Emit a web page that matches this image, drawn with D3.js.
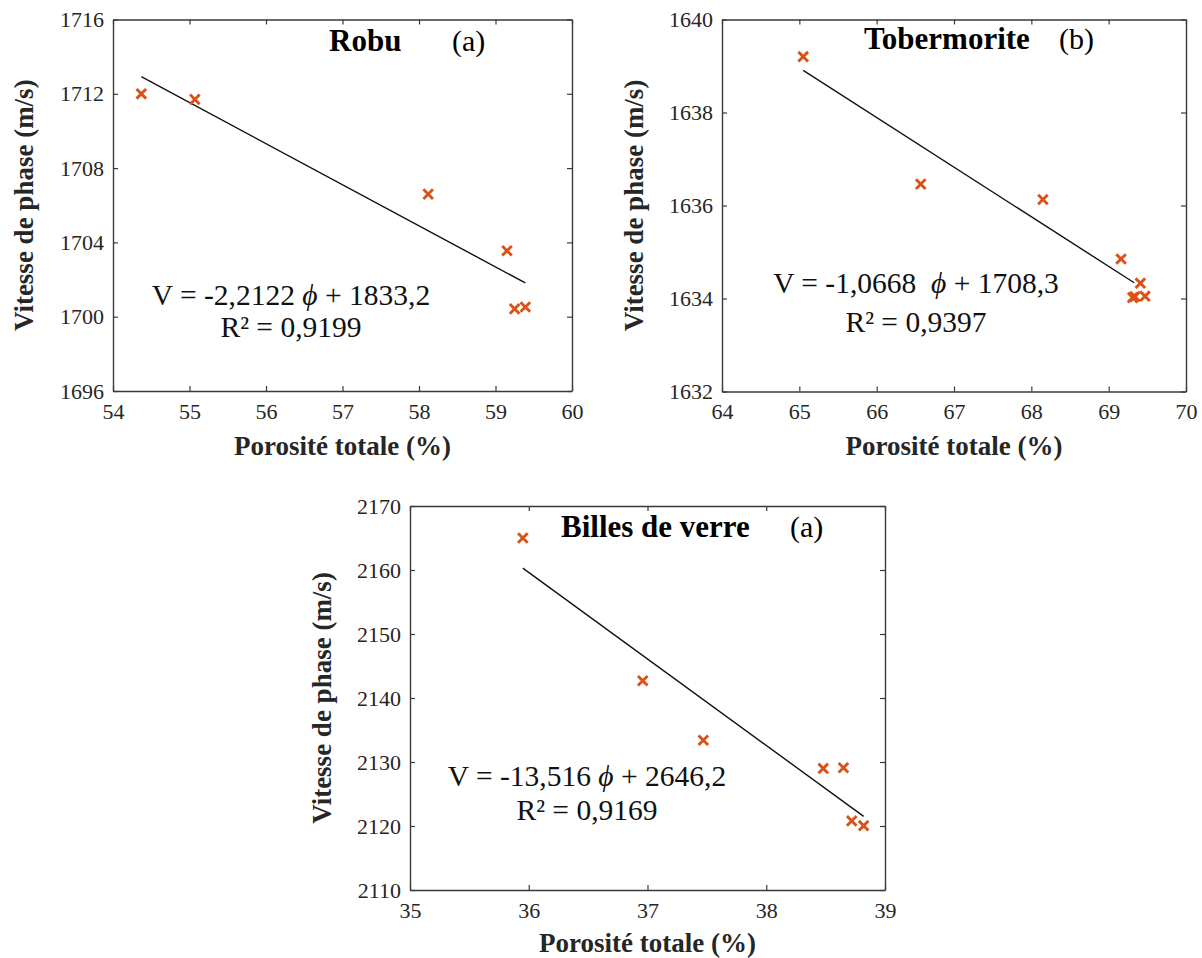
<!DOCTYPE html>
<html><head><meta charset="utf-8">
<script src="https://cdn.jsdelivr.net/npm/d3@7"></script>
<style>body{margin:0;background:#fff}svg{display:block}</style>
</head><body>
<svg id="c" width="1202" height="958"></svg>
<script>
// ---------- data ----------
const robuPorosity   = [54.37, 55.07, 58.12, 59.15, 59.25, 59.39];
const robuVelocity   = [1712.0, 1711.7, 1706.6, 1703.55, 1700.42, 1700.52];
const robuXTicks     = [54, 55, 56, 57, 58, 59, 60];
const robuYTicks     = [1696, 1700, 1704, 1708, 1712, 1716];
const robuFit        = [-2.2122, 1833.2];
const robuFitRange   = [54.37, 59.39];

const toberPorosity  = [65.05, 66.57, 68.15, 69.16, 69.41, 69.31, 69.34, 69.47];
const toberVelocity  = [1639.2, 1636.46, 1636.13, 1634.85, 1634.33, 1634.02, 1634.04, 1634.05];
const toberXTicks    = [64, 65, 66, 67, 68, 69, 70];
const toberYTicks    = [1632, 1634, 1636, 1638, 1640];
const toberFit       = [-1.0668, 1708.3];
const toberFitRange  = [65.05, 69.33];

const billesPorosity = [35.95, 36.96, 37.47, 38.48, 38.65, 38.72, 38.82];
const billesVelocity = [2165.0, 2142.7, 2133.4, 2129.0, 2129.1, 2120.8, 2120.05];
const billesXTicks   = [35, 36, 37, 38, 39];
const billesYTicks   = [2110, 2120, 2130, 2140, 2150, 2160, 2170];
const billesFit      = [-13.516, 2646.2];
const billesFitRange = [35.95, 38.82];

const xLabel = "Porosité totale (%)";
const yLabel = "Vitesse de phase (m/s)";

// ---------- layout ----------
const panels = [
  {x: robuPorosity, y: robuVelocity, xt: robuXTicks, yt: robuYTicks, fit: robuFit, fr: robuFitRange,
   box: [113, 572, 19.5, 391], title: "Robu", tag: "(a)", titleX: 329, tagX: 452, titleY: 51,
   eq1: "V = -2,2122 ", eq2: " + 1833,2", r2: "R² = 0,9199", eqX: 291, eqY: 305, r2Y: 337,
   yLabX: 33, xLabY: 455},
  {x: toberPorosity, y: toberVelocity, xt: toberXTicks, yt: toberYTicks, fit: toberFit, fr: toberFitRange,
   box: [722, 1186, 19.5, 391.5], title: "Tobermorite", tag: "(b)", titleX: 864, tagX: 1059, titleY: 49,
   eq1: "V = -1,0668\u00A0\u00A0", eq2: " + 1708,3", r2: "R² = 0,9397", eqX: 916, eqY: 293, r2Y: 332,
   yLabX: 643, xLabY: 455},
  {x: billesPorosity, y: billesVelocity, xt: billesXTicks, yt: billesYTicks, fit: billesFit, fr: billesFitRange,
   box: [410, 885, 506, 890], title: "Billes de verre", tag: "(a)", titleX: 561, tagX: 790, titleY: 537,
   eq1: "V = -13,516 ", eq2: " + 2646,2", r2: "R² = 0,9169", eqX: 587, eqY: 786, r2Y: 820,
   yLabX: 331, xLabY: 952}
];

const svg = d3.select("#c");
const serif = "'Liberation Serif', 'Times New Roman', serif";
const axisCol = "#3a3a3a";
const textCol = "#262626";
const markCol = "#D95319";

panels.forEach(p => {
  const [x0, x1, y0, y1] = p.box;
  const xs = d3.scaleLinear().domain(d3.extent(p.xt)).range([x0, x1]);
  const ys = d3.scaleLinear().domain(d3.extent(p.yt)).range([y1, y0]);
  const g = svg.append("g");

  const styleAxis = sel => {
    sel.select(".domain").attr("stroke", axisCol).attr("stroke-width", 1.4);
    sel.selectAll(".tick line").attr("stroke", axisCol).attr("stroke-width", 1.2);
    sel.selectAll("text").attr("fill", textCol).style("font-family", serif).style("font-size", "22px");
  };

  g.append("g").attr("transform", `translate(0,${y1})`)
    .call(d3.axisBottom(xs).tickValues(p.xt).tickSizeInner(-5).tickSizeOuter(0).tickPadding(12).tickFormat(d3.format("d")))
    .call(styleAxis);
  g.append("g").attr("transform", `translate(0,${y0})`)
    .call(d3.axisTop(xs).tickValues(p.xt).tickSizeInner(-5).tickSizeOuter(0).tickFormat(""))
    .call(styleAxis);
  g.append("g").attr("transform", `translate(${x0},0)`)
    .call(d3.axisLeft(ys).tickValues(p.yt).tickSizeInner(-5).tickSizeOuter(0).tickPadding(9).tickFormat(d3.format("d")))
    .call(styleAxis);
  g.append("g").attr("transform", `translate(${x1},0)`)
    .call(d3.axisRight(ys).tickValues(p.yt).tickSizeInner(-5).tickSizeOuter(0).tickFormat(""))
    .call(styleAxis);

  // trend line
  const fx = v => p.fit[0] * v + p.fit[1];
  g.append("line")
    .attr("x1", xs(p.fr[0])).attr("y1", ys(fx(p.fr[0])))
    .attr("x2", xs(p.fr[1])).attr("y2", ys(fx(p.fr[1])))
    .attr("stroke", "#111").attr("stroke-width", 1.4);

  // markers
  const r = 4.8;
  const pts = p.x.map((v, i) => [xs(v), ys(p.y[i])]);
  g.selectAll("path.m").data(pts).enter().append("path")
    .attr("class", "m")
    .attr("d", d => `M${d[0]-r},${d[1]-r}L${d[0]+r},${d[1]+r}M${d[0]-r},${d[1]+r}L${d[0]+r},${d[1]-r}`)
    .attr("stroke", markCol).attr("stroke-width", 2.9).attr("fill", "none");

  // title
  g.append("text").attr("x", p.titleX).attr("y", p.titleY)
    .style("font-family", serif).style("font-weight", "bold").style("font-size", "31px")
    .attr("fill", "#000").text(p.title);
  g.append("text").attr("x", p.tagX).attr("y", p.titleY)
    .style("font-family", serif).style("font-size", "30px").attr("fill", "#000").text(p.tag);

  // equation
  const eq = g.append("text").attr("x", p.eqX).attr("y", p.eqY).attr("text-anchor", "middle")
    .style("font-family", serif).style("font-size", "29.5px").attr("fill", "#111")
    .style("white-space", "pre");
  eq.append("tspan").text(p.eq1);
  eq.append("tspan").style("font-style", "italic").text("\u03D5");
  eq.append("tspan").text(p.eq2);
  g.append("text").attr("x", p.eqX).attr("y", p.r2Y).attr("text-anchor", "middle")
    .style("font-family", serif).style("font-size", "29.5px").attr("fill", "#111").text(p.r2);

  // axis labels
  g.append("text").attr("x", (x0 + x1) / 2).attr("y", p.xLabY).attr("text-anchor", "middle")
    .style("font-family", serif).style("font-weight", "bold").style("font-size", "27px")
    .attr("fill", textCol).text(xLabel);
  g.append("text").attr("transform", `translate(${p.yLabX},${(y0 + y1) / 2}) rotate(-90)`)
    .attr("text-anchor", "middle")
    .style("font-family", serif).style("font-weight", "bold").style("font-size", "27px")
    .attr("fill", textCol).text(yLabel);
});
</script>
</body></html>
